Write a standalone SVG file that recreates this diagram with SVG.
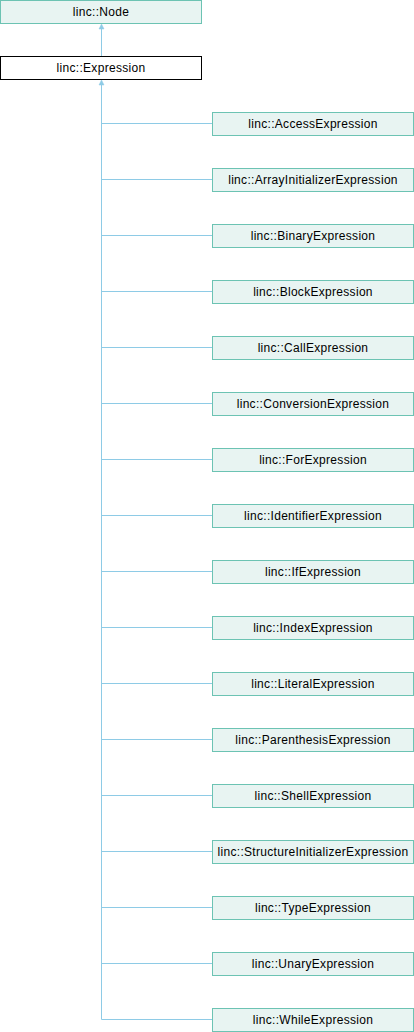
<svg xmlns="http://www.w3.org/2000/svg" width="414" height="1032" viewBox="0 0 414 1032">
<style>
.n rect{fill:#e8f4f2;stroke:#6cc3b3;stroke-width:1}
.b rect{fill:#ffffff;stroke:#000000;stroke-width:1}
text{font-family:"Liberation Sans",Arial,sans-serif;font-size:12px;letter-spacing:0.3px;fill:#000;text-anchor:middle}
.e{fill:none;stroke:#8ecbe6;stroke-width:1}
.a{fill:#8ecbe6;stroke:#8ecbe6;stroke-width:0.5}
</style>
<rect width="414" height="1032" fill="#fff"/>
<g id="edges">
<path class="e" d="M101.5,28V57"/>
<polygon class="a" points="101.5,24 99,29 104,29"/>
<path class="e" d="M101.5,84V1019.5H212"/>
<polygon class="a" points="101.5,80 99,85 104,85"/>
<path class="e" d="M101.5,123.5H212M101.5,179.5H212M101.5,235.5H212M101.5,291.5H212M101.5,347.5H212M101.5,403.5H212M101.5,459.5H212M101.5,515.5H212M101.5,571.5H212M101.5,627.5H212M101.5,683.5H212M101.5,739.5H212M101.5,795.5H212M101.5,851.5H212M101.5,907.5H212M101.5,963.5H212"/>
</g>
<g id="node" class="n"><rect x="0.5" y="0.5" width="201" height="23"/><text x="101" y="16">linc::Node</text></g>
<g id="expression" class="b"><rect x="0.5" y="56.5" width="201" height="23"/><text x="101" y="72">linc::Expression</text></g>
<g id="access" class="n"><rect x="212.5" y="112.5" width="201" height="23"/><text x="313" y="128">linc::AccessExpression</text></g>
<g id="arrayinit" class="n"><rect x="212.5" y="168.5" width="201" height="23"/><text x="313" y="184">linc::ArrayInitializerExpression</text></g>
<g id="binary" class="n"><rect x="212.5" y="224.5" width="201" height="23"/><text x="313" y="240">linc::BinaryExpression</text></g>
<g id="block" class="n"><rect x="212.5" y="280.5" width="201" height="23"/><text x="313" y="296">linc::BlockExpression</text></g>
<g id="call" class="n"><rect x="212.5" y="336.5" width="201" height="23"/><text x="313" y="352">linc::CallExpression</text></g>
<g id="conversion" class="n"><rect x="212.5" y="392.5" width="201" height="23"/><text x="313" y="408">linc::ConversionExpression</text></g>
<g id="for" class="n"><rect x="212.5" y="448.5" width="201" height="23"/><text x="313" y="464">linc::ForExpression</text></g>
<g id="identifier" class="n"><rect x="212.5" y="504.5" width="201" height="23"/><text x="313" y="520">linc::IdentifierExpression</text></g>
<g id="if" class="n"><rect x="212.5" y="560.5" width="201" height="23"/><text x="313" y="576">linc::IfExpression</text></g>
<g id="index" class="n"><rect x="212.5" y="616.5" width="201" height="23"/><text x="313" y="632">linc::IndexExpression</text></g>
<g id="literal" class="n"><rect x="212.5" y="672.5" width="201" height="23"/><text x="313" y="688">linc::LiteralExpression</text></g>
<g id="parenthesis" class="n"><rect x="212.5" y="728.5" width="201" height="23"/><text x="313" y="744">linc::ParenthesisExpression</text></g>
<g id="shell" class="n"><rect x="212.5" y="784.5" width="201" height="23"/><text x="313" y="800">linc::ShellExpression</text></g>
<g id="structinit" class="n"><rect x="212.5" y="840.5" width="201" height="23"/><text x="313" y="856">linc::StructureInitializerExpression</text></g>
<g id="type" class="n"><rect x="212.5" y="896.5" width="201" height="23"/><text x="313" y="912">linc::TypeExpression</text></g>
<g id="unary" class="n"><rect x="212.5" y="952.5" width="201" height="23"/><text x="313" y="968">linc::UnaryExpression</text></g>
<g id="while" class="n"><rect x="212.5" y="1008.5" width="201" height="23"/><text x="313" y="1024">linc::WhileExpression</text></g>
</svg>
